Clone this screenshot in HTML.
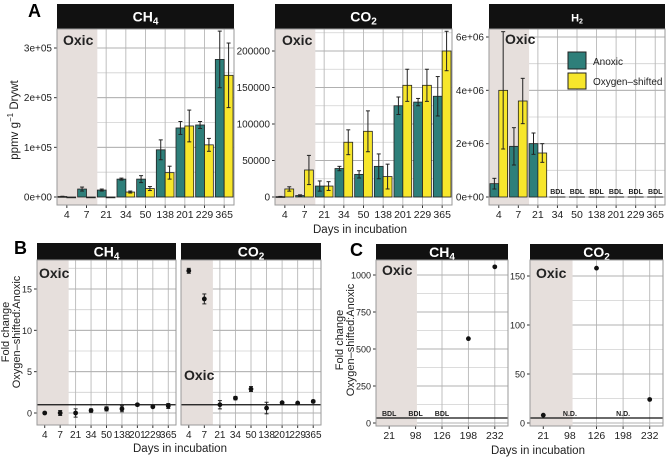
<!DOCTYPE html>
<html><head><meta charset="utf-8"><style>
body{margin:0;background:#fff}
svg{display:block;font-family:"Liberation Sans",Arial,sans-serif}
</style></head><body>
<svg id="fig" width="666" height="459" viewBox="0 0 666 459" xmlns="http://www.w3.org/2000/svg"></svg>
<script>
const catsA = ["4","7","21","34","50","138","201","229","365"];
const ch4Anoxic = [1000,16000,14000,36000,36000,95000,139000,145000,277000];
const ch4AnoxicErr = [500,4000,2000,2000,7000,20000,13000,7000,57000];
const ch4Oxy = [0,0,0,10000,17000,49000,143000,105000,245000];
const ch4OxyErr = [0,0,0,2000,4000,13000,32000,13000,65000];
const co2Anoxic = [500,2000,15000,39000,31000,42000,125000,130000,138000];
const co2AnoxicErr = [300,1000,7000,3000,5000,17000,12000,5000,27000];
const co2Oxy = [11000,37000,15000,75000,90000,28000,153000,153000,200000];
const co2OxyErr = [3000,20000,6000,17000,28000,17000,22000,22000,27000];
const h2Anoxic = [500000,1900000,2000000,null,null,null,null,null,null];
const h2AnoxicErr = [200000,700000,400000,0,0,0,0,0,0];
const h2Oxy = [4000000,3600000,1650000,null,null,null,null,null,null];
const h2OxyErr = [2200000,850000,350000,0,0,0,0,0,0];
const bCh4 = [0,0,0,0.3,0.5,0.5,1.0,0.75,0.85];
const bCh4Err = [0.05,0.3,0.5,0.2,0.25,0.35,0.15,0.1,0.3];
const bCo2 = [17.2,13.8,1.0,1.8,2.9,0.6,1.25,1.2,1.4];
const bCo2Err = [0.3,0.6,0.5,0.2,0.3,0.7,0.1,0.1,0.15];
const catsC = ["21","98","126","198","232"];
const cCh4 = [null,null,null,570,1055];
const cCo2 = [8,null,158,null,24];

const NS="http://www.w3.org/2000/svg";
const svg=document.getElementById('fig');
function el(tag,attrs,parent){const e=document.createElementNS(NS,tag);for(const k in attrs)e.setAttribute(k,attrs[k]);(parent||svg).appendChild(e);return e;}
function txt(s,attrs,parent){const e=el('text',attrs,parent);e.textContent=s;return e;}

function panel(o){
  const g=el('g',{});
  
  
  const pt=o.top+o.stripH;
  const ys=v=>o.y0px+(v-o.d0)*(o.y1px-o.y0px)/(o.d1-o.d0);
  const n=o.cats.length, cw=(o.x1-o.x0)/n;
  const xs=i=>o.x0+cw*(i+0.5);
  el('rect',{x:o.x0,y:pt,width:o.x1-o.x0,height:o.bottom-pt,fill:'#fff'},g);
  for(let v=o.d0;v<=o.d1*1.7;v+=o.step/2){const y=ys(v);if(y<pt||y>o.bottom)continue;
    el('line',{x1:o.x0,x2:o.x1,y1:y,y2:y,stroke:'#d0d0d0','stroke-width':0.8},g);}
  for(let i=0;i<n;i++)el('line',{x1:xs(i),x2:xs(i),y1:pt,y2:o.bottom,stroke:'#b8b8b8','stroke-width':0.9},g);
  for(let v=o.d0;v<=o.d1*1.7;v+=o.step){const y=ys(v);if(y<pt||y>o.bottom)continue;
    el('line',{x1:o.x0,x2:o.x1,y1:y,y2:y,stroke:'#b0b0b0','stroke-width':1},g);}
  if(o.shade){const s=el('rect',{x:o.x0,y:pt,width:o.shade*cw,height:o.bottom-pt,fill:'#e6dfdc'},g);
    }
  el('rect',{x:o.x0,y:o.top,width:o.x1-o.x0,height:o.stripH,fill:'#111'},g);
  const st=txt('',{x:(o.x0+o.x1)/2,y:o.top+o.stripH/2+5,'text-anchor':'middle',fill:'#fff','font-size':o.stripSize||14,'font-weight':'bold'},g);
  st.innerHTML=o.title;
  
  o.ticks.forEach((v,i)=>{const y=ys(v);
    el('line',{x1:o.x0-3,x2:o.x0,y1:y,y2:y,stroke:'#333'},g);
    const t=txt(o.tickLabels[i],{x:o.x0-5,y:y+3.5,'text-anchor':'end','font-size':o.ySize||10,fill:'#222'},g);
    });
  o.cats.forEach((c,i)=>{el('line',{x1:xs(i),x2:xs(i),y1:o.bottom,y2:o.bottom+3,stroke:'#333'},g);
    const t=txt(c,{x:xs(i),y:o.bottom+13,'text-anchor':'middle','font-size':o.xSize||10.5,fill:'#222'},g);
    });
  return {g,ys,xs,cw,pt};
}
function bars(p,a,ae,b,be){
  const bw=p.cw*0.45;
  [[a,ae,'#2e7f7a',-1],[b,be,'#f7e62b',0]].forEach(([vals,errs,col,off])=>{
    vals.forEach((v,i)=>{if(v===null)return;
      const x=p.xs(i)+off*bw, y=p.ys(v), y0=p.ys(0);
      const r=el('rect',{x:x,y:Math.min(y,y0),width:bw,height:Math.max(Math.abs(y0-y),0.8),fill:col,stroke:'#222','stroke-width':0.8},p.g);
      
      
      if(errs[i]>0){const cx=x+bw/2,yt=p.ys(v+errs[i]),yb=p.ys(v-errs[i]);
        el('line',{x1:cx,x2:cx,y1:yt,y2:yb,stroke:'#222','stroke-width':1},p.g);
        el('line',{x1:cx-2,x2:cx+2,y1:yt,y2:yt,stroke:'#222'},p.g);
        el('line',{x1:cx-2,x2:cx+2,y1:yb,y2:yb,stroke:'#222'},p.g);}
    });});
}
function points(p,vals,errs){
  vals.forEach((v,i)=>{if(v===null)return;const cx=p.xs(i),cy=p.ys(v);
    if(errs&&errs[i]>0){const yt=p.ys(v+errs[i]),yb=p.ys(v-errs[i]);
      el('line',{x1:cx,x2:cx,y1:yt,y2:yb,stroke:'#222'},p.g);
      el('line',{x1:cx-2,x2:cx+2,y1:yt,y2:yt,stroke:'#222'},p.g);
      el('line',{x1:cx-2,x2:cx+2,y1:yb,y2:yb,stroke:'#222'},p.g);}
    const c=el('circle',{cx:cx,cy:cy,r:2.4,fill:'#111'},p.g);
    });
}
function frame(p,o){el('rect',{x:o.x0,y:p.pt,width:o.x1-o.x0,height:o.bottom-p.pt,fill:'none',stroke:'#9a9a9a','stroke-width':1},p.g);}
function oxic(p,x,y){const t=txt('Oxic',{x:x,y:y,'font-size':14,'font-weight':'bold',fill:'#222'},p.g);
  }
function hline(p,o,y){el('line',{x1:o.x0,x2:o.x1,y1:y,y2:y,stroke:'#111','stroke-width':1.3},p.g);}

// ---- A ----
let o={name:'panel-a-ch4',x0:57,x1:234,top:4,stripH:25,bottom:205,d0:0,d1:300000,y0px:197,y1px:48,step:100000,
  ticks:[0,100000,200000,300000],tickLabels:['0e+00','1e+05','2e+05','3e+05'],cats:catsA,shade:2.05,title:'CH<tspan font-size="10" dy="3">4</tspan>'};
let p=panel(o);bars(p,ch4Anoxic,ch4AnoxicErr,ch4Oxy,ch4OxyErr);oxic(p,63,45);frame(p,o);
o={name:'panel-a-co2',x0:275,x1:452,top:4,stripH:25,bottom:205,d0:0,d1:200000,y0px:197,y1px:51,step:50000,
  ticks:[0,50000,100000,150000,200000],tickLabels:['0','50000','100000','150000','200000'],cats:catsA,shade:2.05,title:'CO<tspan font-size="10" dy="3">2</tspan>'};
p=panel(o);bars(p,co2Anoxic,co2AnoxicErr,co2Oxy,co2OxyErr);oxic(p,282,45);frame(p,o);
o={name:'panel-a-h2',x0:489,x1:665,top:4,stripH:25,bottom:205,d0:0,d1:6000000,y0px:197,y1px:37,step:2000000,
  ticks:[0,2000000,4000000,6000000],tickLabels:['0e+00','2e+06','4e+06','6e+06'],cats:catsA,shade:2.05,stripSize:11,title:'H<tspan font-size="7" dy="2">2</tspan>'};
p=panel(o);bars(p,h2Anoxic,h2AnoxicErr,h2Oxy,h2OxyErr);oxic(p,505,44);
h2Anoxic.forEach((v,i)=>{if(v!==null)return;const cx=p.xs(i);
  el('line',{x1:cx-8,x2:cx+8,y1:197,y2:197,stroke:'#222'},p.g);
  const t=txt('BDL',{x:cx,y:194,'text-anchor':'middle','font-size':7,'font-weight':'bold',fill:'#222'},p.g);
  });
frame(p,o);
const lg=el('g',{});
el('rect',{x:568,y:52,width:18,height:17,fill:'#2e7f7a',stroke:'#222'},lg);
el('rect',{x:568,y:73,width:18,height:16,fill:'#f7e62b',stroke:'#222'},lg);
txt('Anoxic',{x:593,y:65,'font-size':10,fill:'#222'},lg);
txt('Oxygen\u2013shifted',{x:593,y:85,'font-size':10,fill:'#222'},lg);

txt('A',{x:28,y:17,'font-size':18,'font-weight':'bold'});
let yl=txt('',{transform:'translate(18,120) rotate(-90)','text-anchor':'middle','font-size':11.5,fill:'#222'});
yl.innerHTML='ppmv g<tspan font-size="8" dy="-5">\u22121</tspan><tspan dy="5"> Drywt</tspan>';

txt('Days in incubation',{x:360,y:233,'text-anchor':'middle','font-size':11.5,fill:'#222'});

// ---- B ----
o={name:'panel-b-ch4',x0:37,x1:176,top:243,stripH:17,bottom:425,d0:0,d1:15,y0px:413,y1px:289,step:5,ySize:9,
  ticks:[0,5,10,15],tickLabels:['0','5','10','15'],cats:catsA,shade:2.05,xSize:10,title:'CH<tspan font-size="10" dy="3">4</tspan>'};
p=panel(o);hline(p,o,p.ys(1));points(p,bCh4,bCh4Err);oxic(p,39,278);frame(p,o);
o={name:'panel-b-co2',x0:181,x1:321,top:243,stripH:17,bottom:425,d0:0,d1:15,y0px:413,y1px:289,step:5,
  ticks:[],tickLabels:[],cats:catsA,shade:2.05,xSize:10,title:'CO<tspan font-size="10" dy="3">2</tspan>'};
p=panel(o);hline(p,o,p.ys(1));points(p,bCo2,bCo2Err);oxic(p,184,380);frame(p,o);
txt('B',{x:14,y:254,'font-size':18,'font-weight':'bold'});
txt('Fold change',{transform:'translate(9,332) rotate(-90)','text-anchor':'middle','font-size':11,fill:'#222'});
txt('Oxygen\u2013shifted:Anoxic',{transform:'translate(20,332) rotate(-90)','text-anchor':'middle','font-size':11,fill:'#222'});
txt('Days in incubation',{x:180,y:452,'text-anchor':'middle','font-size':11.5,fill:'#222'});

// ---- C ----
o={name:'panel-c-ch4',x0:376,x1:508,top:244,stripH:16,bottom:426,d0:0,d1:1000,y0px:423,y1px:275,step:250,ySize:9,
  ticks:[0,250,500,750,1000],tickLabels:['0','250','500','750','1000'],cats:catsC,shade:1.55,title:'CH<tspan font-size="10" dy="3">4</tspan>'};
p=panel(o);hline(p,o,418);points(p,cCh4,null);oxic(p,382,275);
cCh4.forEach((v,i)=>{if(v!==null)return;txt('BDL',{x:p.xs(i),y:416,'text-anchor':'middle','font-size':7,'font-weight':'bold',fill:'#222'},p.g);});
frame(p,o);
o={name:'panel-c-co2',x0:530,x1:663,top:244,stripH:16,bottom:426,d0:0,d1:150,y0px:423,y1px:276,step:50,ySize:9,
  ticks:[0,50,100,150],tickLabels:['0','50','100','150'],cats:catsC,shade:1.6,title:'CO<tspan font-size="10" dy="3">2</tspan>'};
p=panel(o);hline(p,o,418);points(p,cCo2,null);oxic(p,536,278);
cCo2.forEach((v,i)=>{if(v!==null)return;txt('N.D.',{x:p.xs(i),y:416,'text-anchor':'middle','font-size':7,'font-weight':'bold',fill:'#222'},p.g);});
frame(p,o);
txt('C',{x:350,y:256,'font-size':18,'font-weight':'bold'});
txt('Fold change',{transform:'translate(343,340) rotate(-90)','text-anchor':'middle','font-size':11,fill:'#222'});
txt('Oxygen\u2013shifted:Anoxic',{transform:'translate(354,340) rotate(-90)','text-anchor':'middle','font-size':11,fill:'#222'});
txt('Days in incubation',{x:538,y:454,'text-anchor':'middle','font-size':11.5,fill:'#222'});
</script>
</body></html>
